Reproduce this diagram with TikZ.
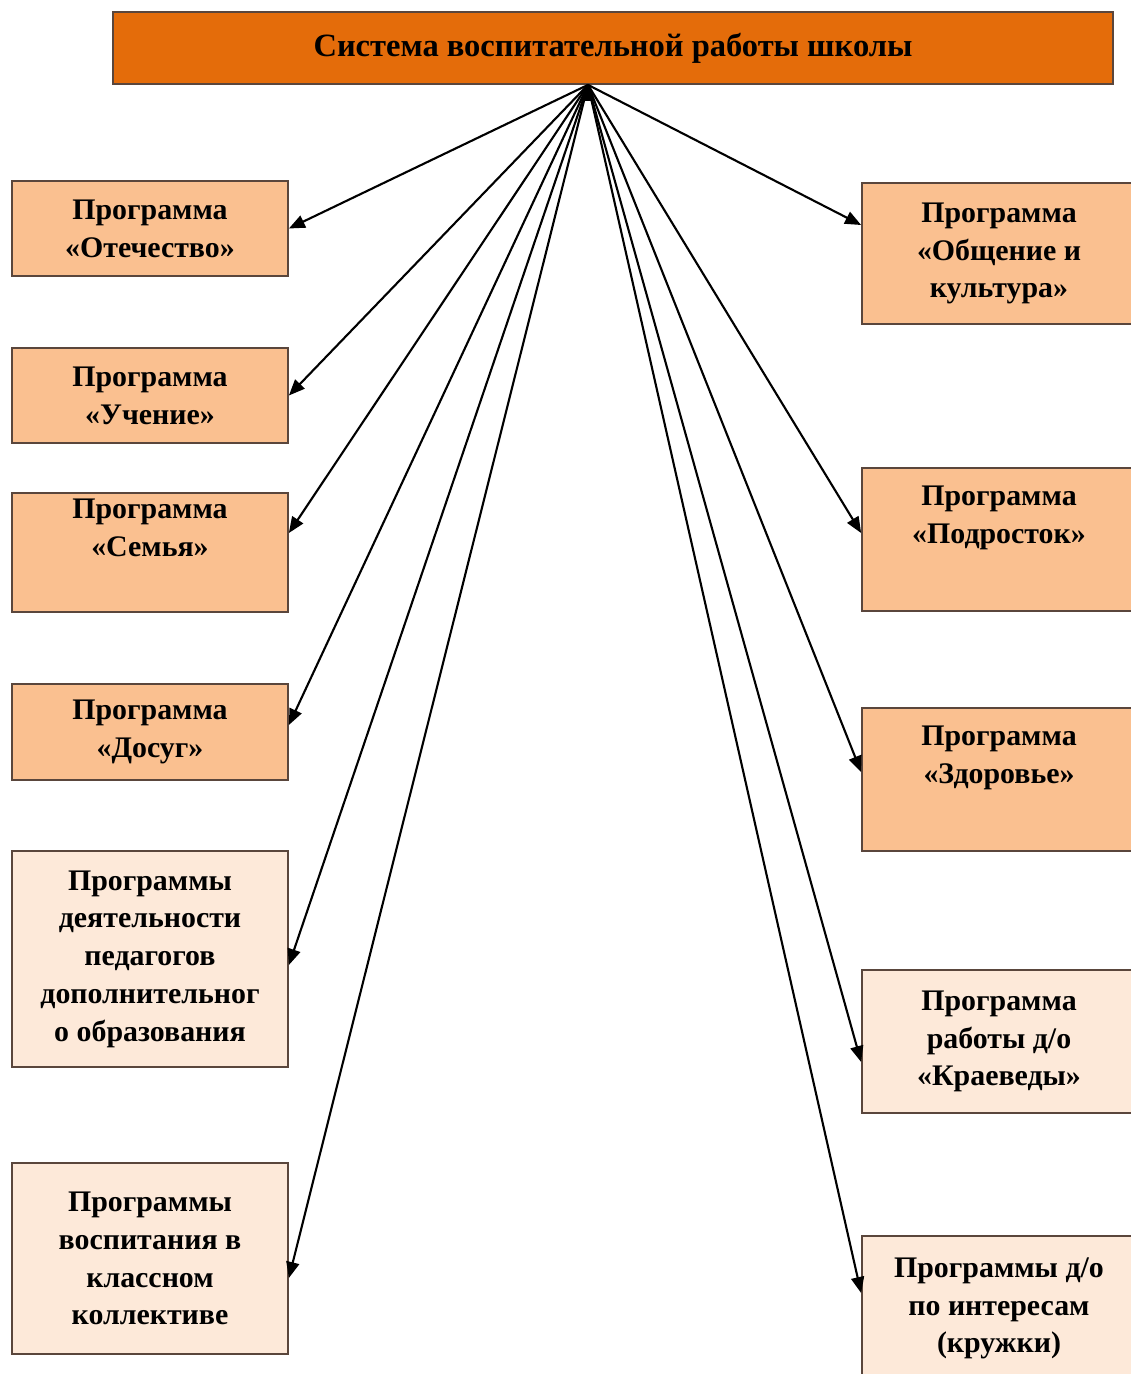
\documentclass[tikz,border=0pt]{standalone}
\usepackage{fontspec}
\setmainfont{Liberation Serif}
\usetikzlibrary{arrows.meta,positioning}
\definecolor{headorange}{RGB}{228,108,10}
\definecolor{peach}{RGB}{250,192,144}
\definecolor{paleorange}{RGB}{253,233,217}
\definecolor{boxline}{RGB}{90,70,60}

\begin{document}
\begin{tikzpicture}[
    box/.style={rectangle, draw=boxline, line width=1pt, align=center, font=\fontsize{17}{21.5}\selectfont\bfseries},
    darkbox/.style={box, fill=peach},
    lightbox/.style={box, fill=paleorange},
    arr/.style={draw, line width=1.2pt, -{Triangle[length=3.2mm,width=2.6mm]}}]
    \def\lx{3.0}
    \def\rx{19.98}
    \def\lw{5.52}
    \def\rw{5.48}
    \useasboundingbox (0,0) rectangle (22.6,-27.48);
    \node(top) [box, fill=headorange, minimum width=20cm, minimum height=1.44cm, font=\fontsize{18.5}{22}\selectfont\bfseries] at (12.26,-0.96) {Система воспитательной работы школы};
    \coordinate (hub) at ([xshift=-5mm]top.south);

    % left column
    \node(l1) [darkbox, minimum width=\lw cm, minimum height=1.9cm] at (\lx,-4.57) {Программа\\«Отечество»};
    \node(l2) [darkbox, minimum width=\lw cm, minimum height=1.9cm] at (\lx,-7.91) {Программа\\«Учение»};
    \node(l3) [darkbox, minimum width=\lw cm, minimum height=2.38cm] at (\lx,-11.05) {Программа\\«Семья»\\\strut};
    \node(l4) [darkbox, minimum width=\lw cm, minimum height=1.92cm] at (\lx,-14.64) {Программа\\«Досуг»};
    \node(l5) [lightbox, minimum width=\lw cm, minimum height=4.32cm] at (\lx,-19.18) {Программы\\деятельности\\педагогов\\дополнительног\\о образования};
    \node(l6) [lightbox, minimum width=\lw cm, minimum height=3.82cm] at (\lx,-25.17) {Программы\\воспитания в\\классном\\коллективе};

    % right column
    \node(r1) [darkbox, minimum width=\rw cm, minimum height=2.82cm] at (\rx,-5.07) {Программа\\«Общение и\\культура»};
    \node(r2) [darkbox, minimum width=\rw cm, minimum height=2.86cm] at (\rx,-10.79) {Программа\\«Подросток»\\\strut};
    \node(r3) [darkbox, minimum width=\rw cm, minimum height=2.86cm] at (\rx,-15.59) {Программа\\«Здоровье»\\\strut};
    \node(r4) [lightbox, minimum width=\rw cm, minimum height=2.86cm] at (\rx,-20.83) {Программа\\работы д/о\\«Краеведы»};
    \node(r5) [lightbox, minimum width=\rw cm, minimum height=2.9cm] at (\rx,-26.17) {Программы д/о\\по интересам\\(кружки)};

    \path[arr]
    (hub) edge (l1.east)
    (hub) edge (l2.east)
    (hub) edge ([yshift=0.39cm]l3.east)
    (hub) edge ([yshift=0.14cm]l4.east)
    (hub) edge ([yshift=-0.12cm]l5.east)
    (hub) edge ([yshift=-0.39cm]l6.east)
    (hub) edge ([yshift=0.57cm]r1.west)
    (hub) edge ([yshift=0.13cm]r2.west)
    (hub) edge ([yshift=0.15cm]r3.west)
    (hub) edge ([yshift=-0.41cm]r4.west)
    (hub) edge ([yshift=0.31cm]r5.west);

\end{tikzpicture}
\end{document}
